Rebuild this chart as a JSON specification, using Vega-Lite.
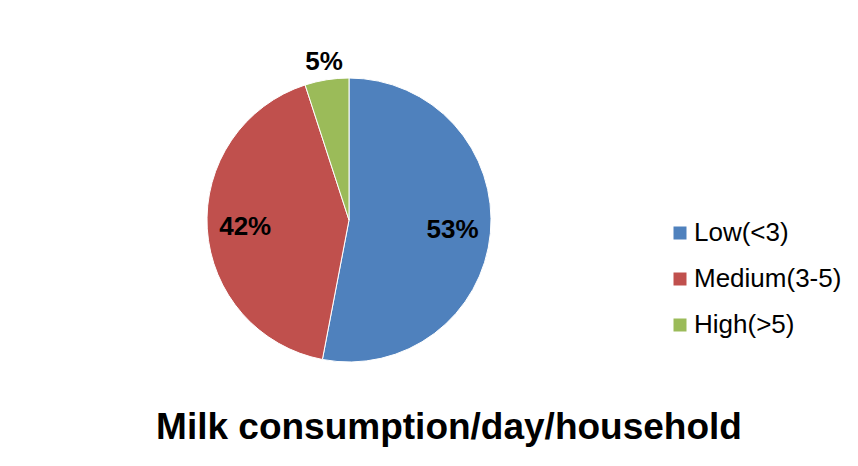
{
  "$schema": "https://vega.github.io/schema/vega-lite/v6.json",
  "width": 684,
  "height": 380,
  "autosize": {"type": "none"},
  "padding": {"left": 7, "top": 30, "right": 167, "bottom": 56},
  "background": "white",
  "config": {"view": {"stroke": null}, "font": "Liberation Sans"},
  "title": {
    "text": "Milk consumption/day/household",
    "orient": "bottom",
    "anchor": "middle",
    "frame": "group",
    "dx": 100,
    "offset": 0,
    "fontSize": 37,
    "fontWeight": "bold",
    "font": "Liberation Sans",
    "color": "black"
  },
  "data": {
    "values": [
      {"category": "Low(<3)", "share": 0.53, "order": 1},
      {"category": "Medium(3-5)", "share": 0.42, "order": 2},
      {"category": "High(>5)", "share": 0.05, "order": 3}
    ]
  },
  "encoding": {
    "theta": {"field": "share", "type": "quantitative", "stack": true},
    "order": {"field": "order", "type": "quantitative"}
  },
  "layer": [
    {
      "mark": {"type": "arc", "outerRadius": 142, "stroke": "white", "strokeWidth": 1},
      "encoding": {
        "color": {
          "field": "category",
          "type": "nominal",
          "sort": ["Low(<3)", "Medium(3-5)", "High(>5)"],
          "scale": {
            "domain": ["Low(<3)", "Medium(3-5)", "High(>5)"],
            "range": ["#4F81BD", "#C0504D", "#9BBB59"]
          },
          "legend": {
            "title": null,
            "orient": "none",
            "legendX": 660,
            "legendY": 190,
            "symbolType": "square",
            "symbolSize": 169,
            "symbolStrokeWidth": 0,
            "labelFontSize": 26,
            "labelFont": "Liberation Sans",
            "labelColor": "black",
            "labelOffset": 1,
            "labelLimit": 300,
            "rowPadding": 20,
            "padding": 0
          }
        }
      }
    },
    {
      "mark": {
        "type": "text",
        "fontSize": 26,
        "fontWeight": "bold",
        "font": "Liberation Sans",
        "color": "black",
        "radius": {"expr": "datum.share < 0.1 ? 160 : 104"}
      },
      "encoding": {
        "text": {"field": "share", "type": "quantitative", "format": ".0%"}
      }
    }
  ]
}
